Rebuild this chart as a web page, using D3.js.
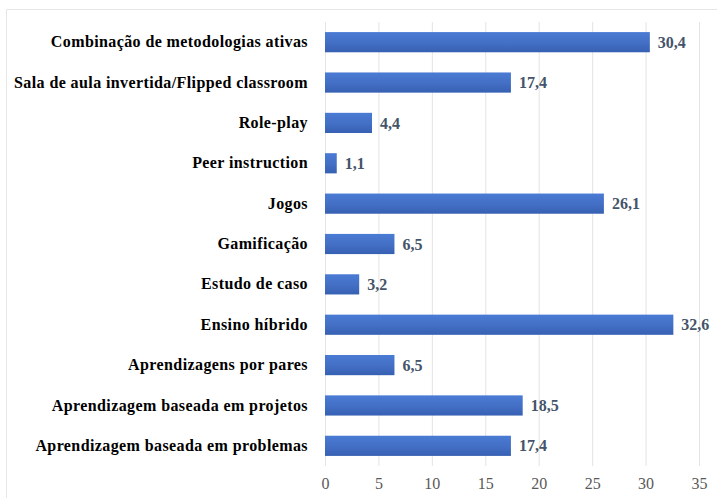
<!DOCTYPE html>
<html>
<head>
<meta charset="utf-8">
<script src="https://cdn.jsdelivr.net/npm/d3@7"></script>
<style>
  html, body { margin: 0; padding: 0; background: #ffffff; }
  svg { display: block; }
  svg text { font-family: "Liberation Serif", "DejaVu Serif", serif; }
</style>
</head>
<body>
<svg id="chart" width="717" height="498"></svg>
<script>
// Metodologias ativas (%)
const categories = [
  "Combinação de metodologias ativas",
  "Sala de aula invertida/Flipped classroom",
  "Role-play",
  "Peer instruction",
  "Jogos",
  "Gamificação",
  "Estudo de caso",
  "Ensino híbrido",
  "Aprendizagens por pares",
  "Aprendizagem baseada em projetos",
  "Aprendizagem baseada em problemas"
];
const values = [30.4, 17.4, 4.4, 1.1, 26.1, 6.5, 3.2, 32.6, 6.5, 18.5, 17.4];
const tickValues = [0, 5, 10, 15, 20, 25, 30, 35];

const SERIF = '"Liberation Serif", "DejaVu Serif", serif';

const svg = d3.select("#chart");
const W = 717, H = 498;
const margin = { left: 325, right: 18, top: 22, bottom: 32 };

// faint outer frame
svg.append("path")
  .attr("d", `M6.5,${H} V9.5 H${W}`)
  .attr("fill", "none")
  .attr("stroke", "#e6e6e6")
  .attr("stroke-width", 1);

const x = d3.scaleLinear().domain([0, 35]).range([margin.left, 699]);
const y = d3.scaleBand().domain(categories).range([margin.top, H - margin.bottom]).paddingInner(0.5).paddingOuter(0.25);

const defs = svg.append("defs");
const grad = defs.append("linearGradient").attr("id", "barGrad")
  .attr("x1", 0).attr("y1", 0).attr("x2", 0).attr("y2", 1);
grad.append("stop").attr("offset", "0%").attr("stop-color", "#4a7bd4");
grad.append("stop").attr("offset", "50%").attr("stop-color", "#4470c6");
grad.append("stop").attr("offset", "100%").attr("stop-color", "#3660b2");

// vertical gridlines
svg.append("g")
  .selectAll("line")
  .data(tickValues)
  .join("line")
  .attr("x1", d => x(d) + 0.5)
  .attr("x2", d => x(d) + 0.5)
  .attr("y1", margin.top)
  .attr("y2", H - margin.bottom)
  .attr("stroke", "#e4e4e4")
  .attr("stroke-width", 1);

// x axis tick labels
const xAxis = d3.axisBottom(x).tickValues(tickValues).tickSize(0).tickPadding(0)
  .tickFormat(d => String(d));
const gx = svg.append("g")
  .attr("transform", `translate(0, ${H - margin.bottom + 12})`)
  .call(xAxis);
gx.select(".domain").remove();
gx.selectAll("text")
  .style("font-family", SERIF)
  .attr("font-size", 16)
  .attr("fill", "#595959");

// category labels
const yAxis = d3.axisLeft(y).tickSize(0).tickPadding(17);
const gy = svg.append("g")
  .attr("transform", `translate(${margin.left}, 0)`)
  .call(yAxis);
gy.select(".domain").remove();
gy.selectAll("text")
  .style("font-family", SERIF)
  .style("letter-spacing", "0.4px")
  .attr("font-weight", "bold")
  .attr("font-size", 16)
  .attr("fill", "#000000");

// bars
svg.append("g")
  .selectAll("rect")
  .data(values)
  .join("rect")
  .attr("x", x(0))
  .attr("y", (d, i) => y(categories[i]))
  .attr("width", d => x(d) - x(0))
  .attr("height", y.bandwidth())
  .attr("fill", "url(#barGrad)");

// value labels
svg.append("g")
  .selectAll("text")
  .data(values)
  .join("text")
  .attr("x", d => x(d) + 8)
  .attr("y", (d, i) => y(categories[i]) + y.bandwidth() / 2)
  .attr("dy", "0.35em")
  .style("font-family", SERIF)
  .attr("font-weight", "bold")
  .attr("font-size", 16)
  .attr("fill", "#44546a")
  .text(d => d.toFixed(1).replace(".", ","));
</script>
</body>
</html>
